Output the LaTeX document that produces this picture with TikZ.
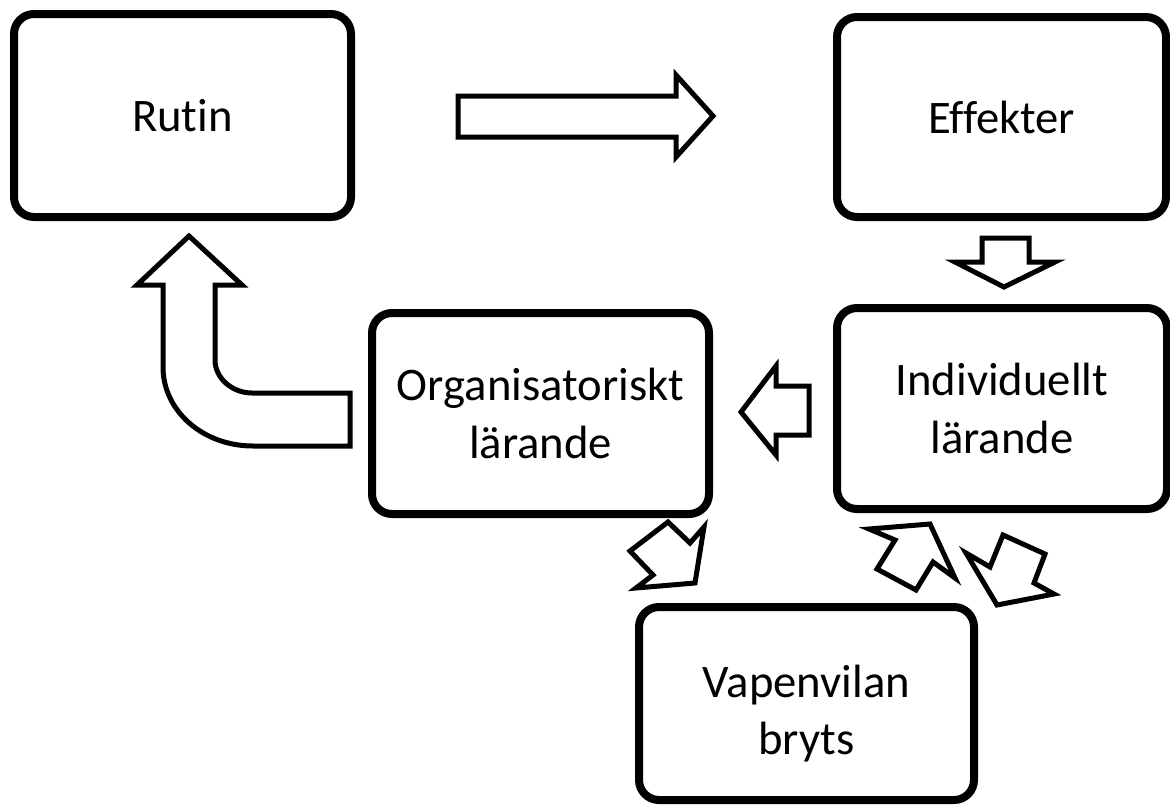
\documentclass[tikz,border=0pt]{standalone}
\usepackage{fontspec}
\setmainfont{Carlito}[RawFeature={-liga,-clig}]
\usetikzlibrary{positioning}

\begin{document}
\begin{tikzpicture}[
        x=0.75pt, y=-0.75pt,
        box/.style={draw, line width=6pt, rounded corners=15pt, fill=white, align=center, inner sep=0pt, font=\fontsize{35}{43}\selectfont},
        blockarrow/.style={draw, line width=3.75pt, line join=miter, fill=white}
    ]
        \useasboundingbox (0,0) rectangle (1170,807);

        % the five stages
        \node[box, minimum width=252.75pt, minimum height=152.25pt] (rutin) at (182.5,115.5) {Rutin};
        \node[box, minimum width=246.75pt, minimum height=150pt] (effekter) at (1001.5,117) {Effekter};
        \node[box, minimum width=252.75pt, minimum height=150.75pt] (orglar) at (540.5,413.5) {Organisatoriskt\\lärande};
        \node[box, minimum width=247.5pt, minimum height=150.75pt] (indlar) at (1002,408.5) {Individuellt\\lärande};
        \node[box, minimum width=251.25pt, minimum height=144.75pt] (vapen) at (806.5,703.5) {\rule{0pt}{34pt}Vapenvilan\\\smash{bryts}};

        % Rutin -> Effekter
        \draw[blockarrow] (458,96) -- (676,96) -- (676,75) -- (713,116) -- (676,157) -- (676,137) -- (458,137) -- cycle;

        % Effekter -> Individuellt
        \draw[blockarrow] (982,238) -- (1029,238) -- (1029,262) -- (1055,262) -- (1004,287) -- (955,262) -- (982,262) -- cycle;

        % Individuellt -> Organisatoriskt
        \draw[blockarrow] (809,386) -- (776,386) -- (776,366) -- (741,412) -- (776,455) -- (776,435) -- (809,435) -- cycle;

        % Organisatoriskt -> Rutin
        \draw[blockarrow] (189,236) -- (242,285) -- (215,285) -- (215,360)
            .. controls (215,378) and (232,393) .. (252,393) -- (350,393) -- (350,446) -- (253,446)
            .. controls (203,446) and (163,411) .. (163,367) -- (163,285) -- (137,285) -- cycle;

        % Organisatoriskt -> Vapenvilan
        \draw[blockarrow] (668,522) -- (690,543) -- (704,527) -- (695,583) -- (636,588) -- (653,575) -- (630,551) -- cycle;

        % Vapenvilan -> Individuellt
        \draw[blockarrow] (869,529) -- (930,524) -- (955,578) -- (933,562) -- (916,590) -- (877,569) -- (895,540) -- cycle;

        % Individuellt -> Vapenvilan
        \draw[blockarrow] (1003,535) -- (1045,554) -- (1034,583) -- (1054,594) -- (997,605) -- (966,553) -- (990,567) -- cycle;

    \end{tikzpicture}
\end{document}
